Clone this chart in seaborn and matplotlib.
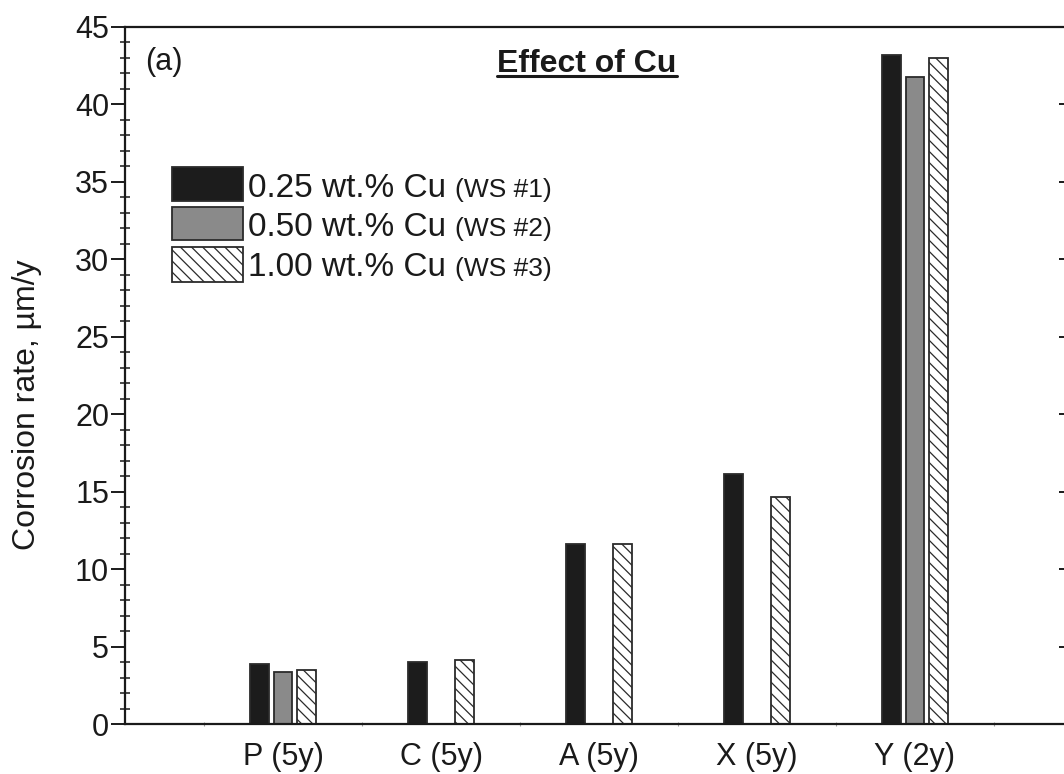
import numpy as np
import pandas as pd
import seaborn as sns
import matplotlib.pyplot as plt
from matplotlib.patches import Rectangle
from matplotlib.lines import Line2D
from matplotlib.ticker import MultipleLocator, FixedLocator

# Exposure sites (exposure time in years)
sites = ["P (5y)", "C (5y)", "A (5y)", "X (5y)", "Y (2y)"]

# Corrosion rates, µm/y, for the three Cu contents
cu_025 = [3.85, 4.02, 11.62, 16.14, 43.21]
cu_050 = [3.38, np.nan, np.nan, np.nan, 41.79]
cu_100 = [3.51, 4.11, 11.60, 14.63, 42.98]

series_labels = ["0.25 wt.% Cu", "0.50 wt.% Cu", "1.00 wt.% Cu"]
specimen_labels = ["(WS #1)", "(WS #2)", "(WS #3)"]

rows = []
for lab, vals in zip(series_labels, [cu_025, cu_050, cu_100]):
    for s, v in zip(sites, vals):
        rows.append({"site": s, "steel": lab, "rate": v})
df = pd.DataFrame(rows).dropna()

sns.set_style("ticks")
plt.rcParams["font.family"] = ["Liberation Sans", "DejaVu Sans"]
plt.rcParams["hatch.linewidth"] = 0.9

W, H = 1064, 774
fig = plt.figure(figsize=(W / 100, H / 100), dpi=100)
ax_left, ax_right, ax_top, ax_bottom = 125, 1073, 27, 724
ax = fig.add_axes([ax_left / W, (H - ax_bottom) / H,
                   (ax_right - ax_left) / W, (ax_bottom - ax_top) / H])

fills = ["#1c1c1c", "#8a8a8a", "#ffffff"]
edge = "#2b2b2b"
hatch = "\\\\\\"
sns.barplot(data=df, x="site", y="rate", hue="steel", order=sites,
            hue_order=series_labels, palette=fills, errorbar=None,
            width=0.4425, gap=0.186, edgecolor=edge, linewidth=1.3,
            saturation=1, legend=False, ax=ax)

for bar in ax.containers[2]:
    bar.set_hatch(hatch)
    bar.set_facecolor("white")
    bar.set_edgecolor(edge)

ax.set_xlim(-1, 5)
ax.set_ylim(0, 45)

# spines
for sp in ax.spines.values():
    sp.set_visible(True)
    sp.set_linewidth(1.6)
    sp.set_color("#1a1a1a")

# y ticks
ax.yaxis.set_major_locator(MultipleLocator(5))
ax.yaxis.set_minor_locator(MultipleLocator(1))
ax.tick_params(axis="y", which="major", direction="out", length=10, width=1.4,
               labelsize=22, pad=1.5, colors="#1a1a1a", right=True,
               labelright=False)
ax.tick_params(axis="y", which="minor", direction="inout", length=6.5, width=1.1,
               colors="#1a1a1a", right=False)
for t in ax.yaxis.get_major_ticks():
    t.tick2line.set_markersize(10)
    t.tick2line.set_marker(0)  # pointing inwards from the right spine

# x ticks
ax.tick_params(axis="x", which="major", length=0, labelsize=22, pad=13,
               colors="#1a1a1a")
ax.xaxis.set_minor_locator(FixedLocator([-0.5, 0.5, 1.5, 2.5, 3.5, 4.5]))
ax.tick_params(axis="x", which="minor", direction="inout", length=3, width=0.8,
               colors="#9a9a9a")

ax.set_xlabel("")
ax.set_ylabel("Corrosion rate, \u00b5m/y", fontsize=23, color="#1a1a1a")
ax.yaxis.set_label_coords(-0.088, 0.4577)

# panel tag and heading
ax.text(0.0211, 0.950, "(a)", transform=ax.transAxes, fontsize=22,
        ha="left", va="center", color="#1a1a1a")
head_base = (ax_bottom - 72) / (ax_bottom - ax_top)
heading = ax.text(0.4873, head_base, "Effect of Cu", transform=ax.transAxes,
                  fontsize=23, fontweight="bold", ha="center", va="baseline",
                  color="#1a1a1a")

# legend: swatches and labels
aw, ah = ax_right - ax_left, ax_bottom - ax_top
boxes = [(167, 201), (207, 240), (247, 282)]
baselines = [197, 236, 276]
main_texts = []
for i, ((bt, bb), base) in enumerate(zip(boxes, baselines)):
    rect = Rectangle(((172 - ax_left) / aw, (ax_bottom - bb) / ah),
                     71 / aw, (bb - bt) / ah, transform=ax.transAxes,
                     facecolor=fills[i], edgecolor=edge, linewidth=1.3,
                     hatch=hatch if i == 2 else None, clip_on=False)
    ax.add_patch(rect)
    t = ax.text((248 - ax_left) / aw, (ax_bottom - base) / ah, series_labels[i],
                transform=ax.transAxes, fontsize=24, ha="left", va="baseline",
                color="#1a1a1a")
    main_texts.append(t)

fig.canvas.draw()
renderer = fig.canvas.get_renderer()
for t, spec in zip(main_texts, specimen_labels):
    bbx = t.get_window_extent(renderer)
    x_disp = bbx.x1 + 9
    x_ax = ax.transAxes.inverted().transform((x_disp, 0))[0]
    ax.text(x_ax, t.get_position()[1], spec, transform=ax.transAxes,
            fontsize=19, ha="left", va="baseline", color="#1a1a1a")

# underline the heading
hb = heading.get_window_extent(renderer)
base_disp = ax.transAxes.transform((0, head_base))[1]
uy = (base_disp - 4) / H
fig.add_artist(Line2D([hb.x0 / W, hb.x1 / W], [uy, uy], transform=fig.transFigure,
                      color="#1a1a1a", linewidth=2.2))

fig.savefig("out.png", dpi=100)
